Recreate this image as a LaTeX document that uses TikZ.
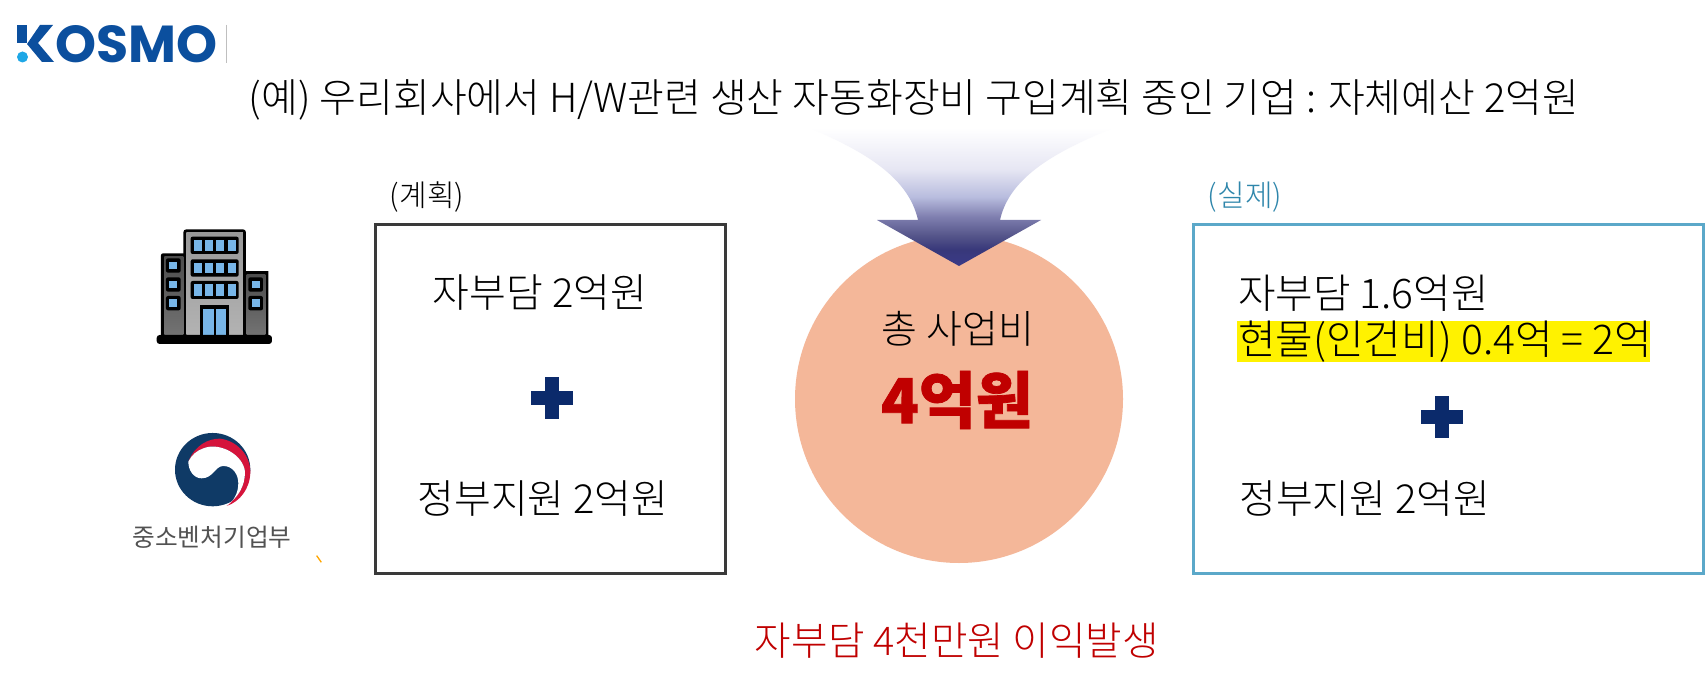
\documentclass[tikz,border=0pt]{standalone}
\usepackage{fontspec}
\newfontfamily\kr{Noto Sans CJK KR Light}
\newfontfamily\krb{Noto Sans CJK KR Black}[FakeBold=1.2]
\newfontfamily\krr{Noto Sans CJK KR}
\newfontfamily\logofont{Poppins}[BoldFont={Poppins Bold}]
\usetikzlibrary{calc}
\definecolor{navyplus}{HTML}{0B2A6B}
\definecolor{darkred}{HTML}{C00000}
\definecolor{peach}{HTML}{F4B799}
\definecolor{boxblue}{HTML}{5BA8C9}
\definecolor{boxdark}{HTML}{3A3A3A}
\definecolor{kosmoblue}{HTML}{0B4F9E}
\definecolor{kosmocyan}{HTML}{1EA7E6}
\definecolor{winblue}{HTML}{78B6E8}
\definecolor{tgnavy}{HTML}{0F3A66}
\definecolor{tgred}{HTML}{D5143C}
\definecolor{lbl}{HTML}{2E86AB}
\definecolor{fa}{HTML}{3A3A88}
\definecolor{fb}{HTML}{38387A}
\definecolor{fc}{HTML}{55558A}
\definecolor{fd}{HTML}{8080B0}
\definecolor{fe}{HTML}{B8BCDE}
\definecolor{ff}{HTML}{E6E6F3}
\pgfdeclareverticalshading{arrowfade}{100bp}{
 color(0bp)=(fa);color(25bp)=(fa);
 color(31bp)=(fb);color(36bp)=(fc);color(43bp)=(fd);
 color(50bp)=(fe);color(60bp)=(ff);color(75bp)=(white);color(100bp)=(white)}
\tikzset{
 txt/.style={font=\kr\fontsize{40}{44}\selectfont,inner sep=0pt,text=black},
 small/.style={font=\kr\fontsize{30}{33}\selectfont,inner sep=0pt},
 framebox/.style={draw=boxdark,line width=3pt,fill=white},
 plusbar/.style={fill=navyplus},
 ink/.style={fill=black},
 gl/.style={fill=winblue}
}
\begin{document}
\begin{tikzpicture}[x=1pt,y=-1pt]
\useasboundingbox (0,0) rectangle (1705,687);
\fill[white] (0,0) rectangle (1705,687);
% logo
\node[anchor=west,inner sep=0pt,text=kosmoblue] (osmo) at (55,44) {\resizebox{162pt}{37pt}{\logofont\bfseries OSMO}};
\fill[kosmoblue] (17,25) rectangle (27,43);
\fill[kosmoblue] (40,25) -- (53,25) -- (38,43) -- (54,62) -- (42,62) -- (27,44) -- cycle;
\fill[kosmocyan] (22.5,57) circle (5.5);
\draw[black!25,line width=.8pt] (226,25) -- (226,63);
% title
\node[txt] (title) at (914,100) {(예) 우리회사에서 H/W관련 생산 자동화장비 구입계획 중인 기업 : 자체예산 2억원};
% building (zoom coordinates)
\begin{scope}[shift={(120,200)},x=.3333pt,y=-.3333pt]
 \fill[black,rounded corners=2pt] (123,160) rectangle (445,410);
 \fill[white] (378,150) rectangle (450,214);
 \fill[black,rounded corners=3pt] (190,88) rectangle (378,410);
 \shade[top color=black!70,bottom color=black!55] (133,170) rectangle (190,405);
 \shade[top color=black!70,bottom color=black!55] (380,225) rectangle (436,405);
 \shade[top color=black!40,bottom color=black!30] (199,98) rectangle (369,405);
 \foreach \ya/\yb in {110/162,178/230,243/297}{
  \fill[ink,rounded corners=2pt] (212,\ya) rectangle (356,\yb);
  \foreach \xa in {221,255,289,323}
   \fill[gl] (\xa,\ya+10) rectangle ++(24,{\yb-\ya-20});
 }
 \fill[ink] (240,316) rectangle (328,408);
 \fill[gl] (249,326) rectangle (281,405);
 \fill[gl] (289,326) rectangle (319,405);
 \foreach \xa/\ya in {138/175,138/232,138/288,385/232,385/288}{
  \fill[ink,rounded corners=2pt] (\xa,\ya) rectangle ++(44,43);
  \fill[gl] (\xa+10,\ya+10) rectangle ++(24,23);
 }
 \fill[ink,rounded corners=3pt] (110,405) rectangle (456,432);
 % ministry mark
 \fill[tgnavy] (278,809) circle [x radius=113,y radius=110];
 \fill[tgred] (205,785) .. controls (225,735) and (265,716) .. (300,716)
   .. controls (350,722) and (391,765) .. (391,815)
   .. controls (391,865) and (360,905) .. (320,918)
   .. controls (355,890) and (375,860) .. (375,815)
   .. controls (370,765) and (300,725) .. (250,745)
   .. controls (230,752) and (215,765) .. (205,785) -- cycle;
 \fill[white] (205,785) .. controls (215,765) and (230,752) .. (250,745)
   .. controls (300,725) and (370,765) .. (375,815)
   .. controls (375,860) and (355,890) .. (320,918)
   .. controls (340,905) and (355,880) .. (355,850)
   .. controls (355,825) and (340,798) .. (310,798)
   .. controls (285,798) and (280,835) .. (245,835)
   .. controls (220,835) and (205,810) .. (205,785) -- cycle;
 \draw[orange!70!yellow,line width=1.3pt] (590,1067) -- (604,1087);
\end{scope}
\node[font=\krr\fontsize{24.7}{27}\selectfont,inner sep=0pt,text=black!68] (mss) at (212,537) {중소벤처기업부};
% boxes
\node[small] (plan) at (427,197) {(계획)};
\node[small,text=lbl] (real) at (1245,197) {(실제)};
\node[framebox,minimum width=350pt,minimum height=348pt,inner sep=0pt] (lbox) at (550,399) {};
\node[framebox,draw=boxblue,minimum width=510pt,minimum height=348pt,inner sep=0pt] (rbox) at (1448,399) {};
\node[txt] (l1) at (540,293) {자부담 2억원};
\node[txt] (l2) at (543,499) {정부지원 2억원};
\fill[plusbar] (531,391) rectangle (573,405);
\fill[plusbar] (545,377) rectangle (559,419);
\node[txt,anchor=west,font=\kr\fontsize{40.8}{44}\selectfont] (r1) at (1238,293) {자부담 1.6억원};
\fill[yellow] (1237,321) rectangle (1650,362);
\node[txt,anchor=west,font=\kr\fontsize{40.9}{44}\selectfont] (r2) at (1238,342) {현물(인건비) 0.4억 = 2억};
\node[txt,anchor=west] (r3) at (1239,499) {정부지원 2억원};
\fill[plusbar] (1421,410) rectangle (1463,424);
\fill[plusbar] (1435,396) rectangle (1449,438);
% circle
\node[circle,fill=peach,minimum size=328pt,inner sep=0pt] (circ) at (959,399) {};
\shade[shading=arrowfade] (810,128) .. controls (860,150) and (908,175) .. (918,220)
  -- (877,220) -- (959,266) -- (1041,220) -- (1000,220)
  .. controls (1010,175) and (1060,150) .. (1113,128) -- cycle;
\node[txt,font=\kr\fontsize{39}{42}\selectfont] (total) at (958,329) {총 사업비};
\node[inner sep=0pt,text=darkred,font=\krb\fontsize{62}{66}\selectfont] (amt) at (957,400) {4억원};
\node[txt,text=darkred,font=\kr\fontsize{39.7}{44}\selectfont] (note) at (957,641) {자부담 4천만원 이익발생};
\end{tikzpicture}
\end{document}
